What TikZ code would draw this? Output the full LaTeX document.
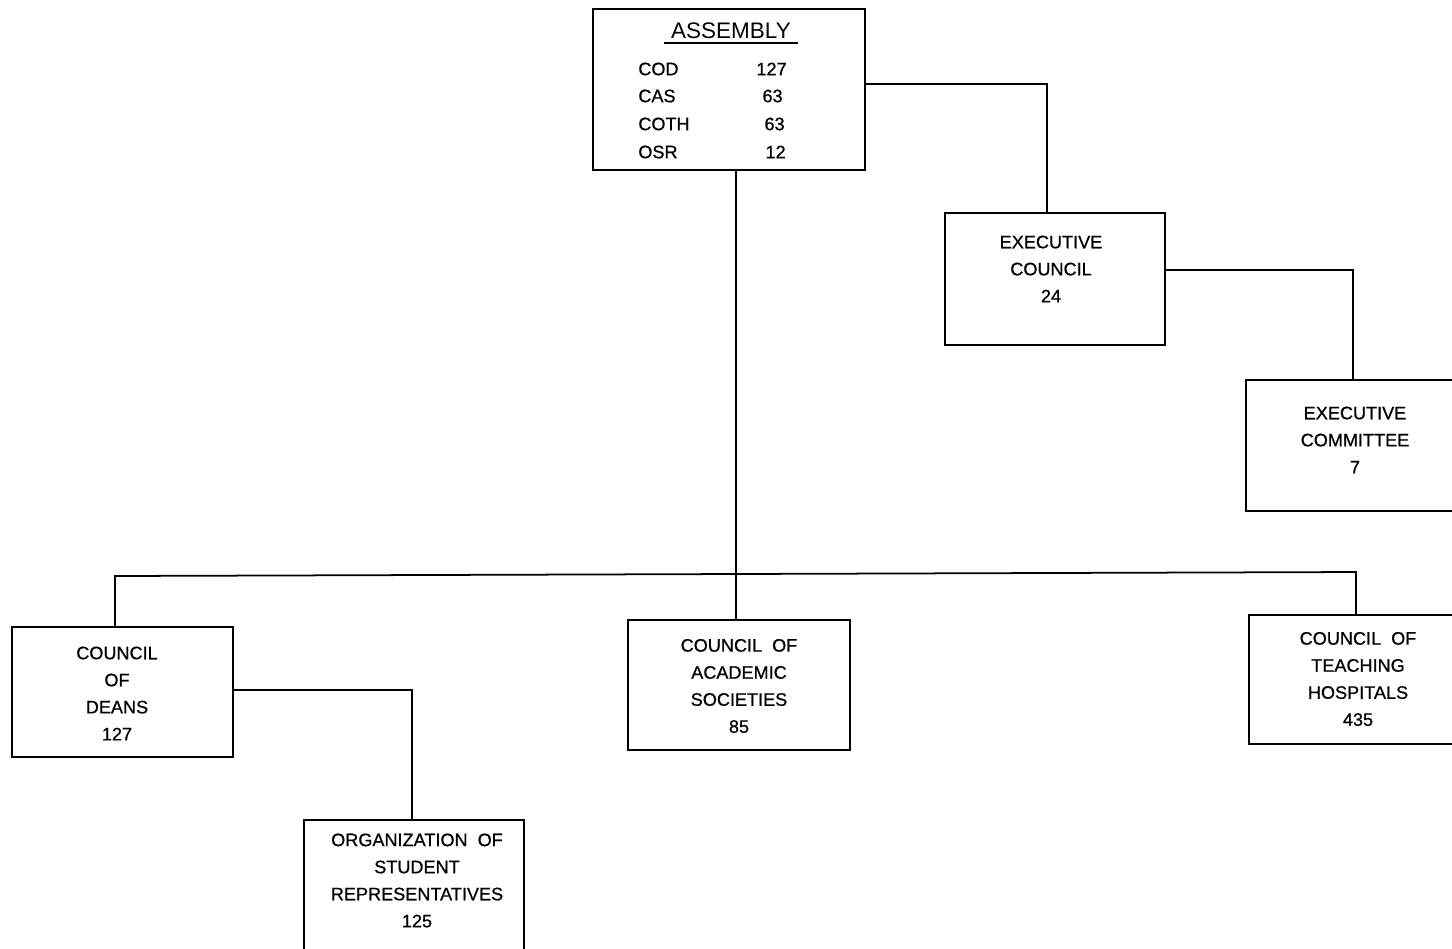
\documentclass[tikz,border=0pt]{standalone}
\usepackage{fontspec}
\setmainfont{Liberation Sans}
\newfontfamily\medfont{Liberation Sans}[UprightFeatures={FakeBold=0.7}]
\newcommand{\pxu}{0.5690pt}
\begin{document}
\begin{tikzpicture}[x=0.02cm,y=-0.02cm,
  box/.style={draw,line width=1pt,rectangle,inner sep=0pt},
  lbl/.style={align=center,inner sep=0pt,font=\medfont\fontsize{10.3}{15.4}\selectfont},
  row/.style={inner sep=0pt,font=\medfont\fontsize{10.3}{12}\selectfont},
  conn/.style={line width=1pt}]
\useasboundingbox (0,0) rectangle (1452,948);
\clip (0,0) rectangle (1452,948);
\fill[white] (0,0) rectangle (1452,948);
% boxes
\node[box,minimum width=272*\pxu,minimum height=161*\pxu] (asm) at (729,89.5) {};
\node[box,minimum width=220*\pxu,minimum height=132*\pxu] (ec) at (1055,279) {};
\node[box,minimum width=220*\pxu,minimum height=131*\pxu] (ecm) at (1356,445.5) {};
\node[box,minimum width=221*\pxu,minimum height=130*\pxu] (cod) at (122.5,692) {};
\node[box,minimum width=222*\pxu,minimum height=130*\pxu] (cas) at (739,685) {};
\node[box,minimum width=220*\pxu,minimum height=129*\pxu] (coth) at (1359,679.5) {};
\node[box,minimum width=220*\pxu,minimum height=132*\pxu] (osr) at (414,886) {};
% assembly contents
\node[inner xsep=4pt,inner ysep=2pt,font=\fontsize{12.8}{14}\selectfont] (title) at (731,31) {ASSEMBLY};
\draw[line width=0.9pt] (title.south west) -- (title.south east);
\node[row,anchor=west] (r1) at (638,69) {COD};
\node[row,anchor=east] (n1) at (787,69) {127};
\node[row,anchor=west] (r2) at (638,96) {CAS};
\node[row,anchor=east] (n2) at (783,96) {63};
\node[row,anchor=west] (r3) at (638,124) {COTH};
\node[row,anchor=east] (n3) at (785,124) {63};
\node[row,anchor=west] (r4) at (638,152) {OSR};
\node[row,anchor=east] (n4) at (786,152) {12};
% box texts
\node[lbl] (ect) at (1051,269) {EXECUTIVE\\COUNCIL\\24};
\node[lbl] (ecmt) at (1355,440) {EXECUTIVE\\COMMITTEE\\7};
\node[lbl] (codt) at (117,693.5) {COUNCIL\\OF\\DEANS\\127};
\node[lbl] (cast) at (739,686) {COUNCIL\ \ OF\\ACADEMIC\\SOCIETIES\\85};
\node[lbl] (cotht) at (1358,679) {COUNCIL\ \ OF\\TEACHING\\HOSPITALS\\435};
\node[lbl] (osrt) at (417,880.5) {ORGANIZATION\ \ OF\\STUDENT\\REPRESENTATIVES\\125};
% connector coordinates
\coordinate (a1) at (1047,84);
\coordinate (a2) at (1353,270);
\coordinate (a3) at (736,0);
\coordinate (a4) at (412,690);
\coordinate (b1) at (115,576);
\coordinate (b2) at (1356,572);
% connectors
\draw[conn] (asm.east |- a1) -- (a1) -- (ec.north -| a1);
\draw[conn] (ec.east |- a2) -- (a2) -- (ecm.north -| a2);
\draw[conn] (asm.south -| a3) -- (cas.north -| a3);
\draw[conn] (cod.north -| b1) -- (b1) -- (b2) -- (coth.north -| b2);
\draw[conn] (cod.east |- a4) -- (a4) -- (osr.north -| a4);
\end{tikzpicture}
\end{document}
